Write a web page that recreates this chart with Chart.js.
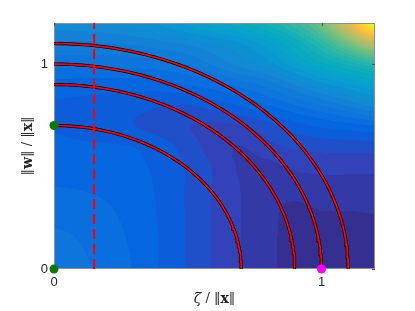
<!DOCTYPE html>
<html>
<head>
<meta charset="utf-8">
<script src="https://cdn.jsdelivr.net/npm/chart.js@4/dist/chart.umd.min.js"></script>
<style>
  html, body { margin: 0; padding: 0; background: #fff; }
  canvas { display: block; }
</style>
</head>
<body>
<canvas id="chart" width="415" height="311"></canvas>
<script>
// ---------- data ----------
const X_TICKS = [0, 1];
const Y_TICKS = [0, 1];

// grid where the background field was sampled
const FIELD_X = [0, 0.1, 0.2, 0.3, 0.4, 0.5, 0.6, 0.7, 0.8, 0.9, 1.0, 1.1, 1.2];
const FIELD_Y = [0, 0.1, 0.2, 0.3, 0.4, 0.5, 0.6, 0.7, 0.8, 0.9, 1.0, 1.1, 1.2];
// colour level (0 = darkest, 1 = yellow), one row per FIELD_Y value
const FIELD = [
  [0.190, 0.181, 0.165, 0.148, 0.122, 0.097, 0.072, 0.050, 0.030, 0.018, 0.010, 0.012, 0.018],
  [0.183, 0.176, 0.162, 0.146, 0.122, 0.097, 0.072, 0.050, 0.030, 0.018, 0.010, 0.012, 0.018],
  [0.175, 0.170, 0.158, 0.143, 0.122, 0.097, 0.072, 0.050, 0.030, 0.019, 0.015, 0.016, 0.020],
  [0.163, 0.160, 0.152, 0.139, 0.121, 0.097, 0.072, 0.050, 0.031, 0.022, 0.027, 0.027, 0.028],
  [0.150, 0.148, 0.143, 0.134, 0.120, 0.097, 0.073, 0.049, 0.032, 0.035, 0.040, 0.040, 0.040],
  [0.140, 0.138, 0.135, 0.130, 0.118, 0.097, 0.072, 0.046, 0.042, 0.055, 0.058, 0.058, 0.058],
  [0.130, 0.128, 0.127, 0.124, 0.110, 0.088, 0.062, 0.050, 0.068, 0.080, 0.085, 0.087, 0.088],
  [0.123, 0.118, 0.110, 0.100, 0.088, 0.076, 0.070, 0.075, 0.092, 0.115, 0.130, 0.140, 0.150],
  [0.122, 0.120, 0.116, 0.110, 0.102, 0.100, 0.112, 0.128, 0.150, 0.175, 0.200, 0.230, 0.260],
  [0.140, 0.138, 0.137, 0.137, 0.140, 0.150, 0.165, 0.185, 0.210, 0.250, 0.290, 0.320, 0.350],
  [0.185, 0.183, 0.183, 0.185, 0.190, 0.200, 0.230, 0.260, 0.290, 0.340, 0.390, 0.430, 0.470],
  [0.220, 0.220, 0.222, 0.228, 0.240, 0.255, 0.275, 0.300, 0.340, 0.400, 0.480, 0.580, 0.700],
  [0.260, 0.265, 0.270, 0.285, 0.305, 0.330, 0.360, 0.390, 0.430, 0.490, 0.580, 0.760, 1.000],
];
const FIELD_LEVELS = 40;

const ARC_RADII = [0.7, 0.9, 1.0, 1.1];
const DASH_X = 0.15;
const GREEN_PTS = [{ x: 0, y: 0 }, { x: 0, y: 0.7 }];
const MAGENTA_PTS = [{ x: 1, y: 0 }];

const X_MIN = 0, X_MAX = 1.2, Y_MIN = 0, Y_MAX = 1.2;

// parula (R2014b), every 4th entry of the 64-colour map
const PARULA_RGB = [
  [53, 42, 135], [50, 67, 186], [3, 99, 225], [13, 117, 220], [20, 133, 212],
  [9, 152, 209], [6, 167, 198], [21, 177, 180], [56, 185, 158], [101, 190, 134],
  [146, 191, 115], [183, 189, 100], [217, 186, 86], [248, 186, 68], [252, 206, 46],
  [245, 228, 29], [249, 251, 14],
];

// ---------- helpers ----------
function parula(t) {
  t = Math.max(0, Math.min(1, t));
  const n = PARULA_RGB.length - 1;
  const k = Math.min(n - 1, Math.floor(t * n));
  const f = t * n - k;
  const a = PARULA_RGB[k], b = PARULA_RGB[k + 1];
  return [0, 1, 2].map((i) => a[i] + (b[i] - a[i]) * f);
}

// smooth (Catmull-Rom) lookup in the sampled grid, for display only
function cr(p0, p1, p2, p3, t) {
  return 0.5 * (2 * p1 + (p2 - p0) * t + (2 * p0 - 5 * p1 + 4 * p2 - p3) * t * t + (3 * p1 - p0 - 3 * p2 + p3) * t * t * t);
}

function cell(arr, v) {
  const last = arr.length - 1;
  if (v <= arr[0]) return [0, 0];
  if (v >= arr[last]) return [last - 1, 1];
  let i = 0;
  while (arr[i + 1] < v) i++;
  return [i, (v - arr[i]) / (arr[i + 1] - arr[i])];
}

const at = (j, i) => {
  const jj = Math.max(0, Math.min(FIELD.length - 1, j));
  const ii = Math.max(0, Math.min(FIELD[0].length - 1, i));
  return FIELD[jj][ii];
};

function fieldAt(x, y) {
  const [i, fx] = cell(FIELD_X, x);
  const [j, fy] = cell(FIELD_Y, y);
  const rows = [-1, 0, 1, 2].map((dj) =>
    cr(at(j + dj, i - 1), at(j + dj, i), at(j + dj, i + 1), at(j + dj, i + 2), fx));
  return cr(rows[0], rows[1], rows[2], rows[3], fy);
}

// arcs built from the radii
function arcPoints(r) {
  const pts = [];
  for (let k = 0; k <= 90; k++) {
    const th = (k / 90) * Math.PI / 2;
    pts.push({ x: r * Math.cos(th), y: r * Math.sin(th) });
  }
  return pts;
}

// ---------- plugins ----------
const fieldPlugin = {
  id: "field",
  beforeDatasetsDraw(chart) {
    const { ctx, chartArea: ca, scales } = chart;
    const w = Math.round(ca.right - ca.left), h = Math.round(ca.bottom - ca.top);
    const off = document.createElement("canvas");
    off.width = w; off.height = h;
    const octx = off.getContext("2d");
    const img = octx.createImageData(w, h);
    for (let j = 0; j < h; j++) {
      const yv = scales.y.getValueForPixel(ca.top + j + 0.5);
      for (let i = 0; i < w; i++) {
        const xv = scales.x.getValueForPixel(ca.left + i + 0.5);
        const v = fieldAt(xv, yv);
        const q = (Math.floor(v * FIELD_LEVELS) + 0.5) / FIELD_LEVELS;
        const c = parula(q);
        const p = (j * w + i) * 4;
        img.data[p] = c[0]; img.data[p + 1] = c[1]; img.data[p + 2] = c[2]; img.data[p + 3] = 255;
      }
    }
    octx.putImageData(img, 0, 0);
    ctx.drawImage(off, ca.left, ca.top);

    // axis box + inward ticks
    ctx.save();
    ctx.strokeStyle = "#8f8f8f";
    ctx.lineWidth = 1;
    ctx.strokeRect(ca.left + 0.5, ca.top + 0.5, w - 1, h - 1);
    ctx.strokeStyle = "#555";
    X_TICKS.forEach((t) => {
      const px = Math.round(scales.x.getPixelForValue(t)) + 0.5;
      ctx.beginPath();
      ctx.moveTo(px, ca.top); ctx.lineTo(px, ca.top + 3);
      ctx.moveTo(px, ca.bottom); ctx.lineTo(px, ca.bottom - 3);
      ctx.stroke();
    });
    Y_TICKS.forEach((t) => {
      const py = Math.round(scales.y.getPixelForValue(t)) + 0.5;
      ctx.beginPath();
      ctx.moveTo(ca.left, py); ctx.lineTo(ca.left + 3, py);
      ctx.moveTo(ca.right, py); ctx.lineTo(ca.right - 3, py);
      ctx.stroke();
    });
    ctx.restore();
  },
};

// axis titles with mixed italic / bold pieces
const X_TITLE = [
  { t: "ζ", f: "italic 14px 'DejaVu Serif'" },
  { t: " / ", f: "13px 'DejaVu Serif'" },
  { t: "‖", f: "13px 'DejaVu Serif'" },
  { t: "x", f: "bold 14px 'DejaVu Serif'" },
  { t: "‖", f: "13px 'DejaVu Serif'" },
];
const Y_TITLE = [
  { t: "‖", f: "13px 'DejaVu Serif'" },
  { t: "w", f: "bold 14px 'DejaVu Serif'" },
  { t: "‖", f: "13px 'DejaVu Serif'" },
  { t: " / ", f: "13px 'DejaVu Serif'" },
  { t: "‖", f: "13px 'DejaVu Serif'" },
  { t: "x", f: "bold 14px 'DejaVu Serif'" },
  { t: "‖", f: "13px 'DejaVu Serif'" },
];

function drawPieces(ctx, pieces, cx, cy, rot) {
  ctx.save();
  ctx.translate(cx, cy);
  ctx.rotate(rot);
  let total = 0;
  pieces.forEach((p) => { ctx.font = p.f; total += ctx.measureText(p.t).width; });
  let x = -total / 2;
  ctx.fillStyle = "#262626";
  ctx.textBaseline = "middle";
  ctx.textAlign = "left";
  pieces.forEach((p) => {
    ctx.font = p.f;
    ctx.fillText(p.t, x, 0);
    x += ctx.measureText(p.t).width;
  });
  ctx.restore();
}

const titlePlugin = {
  id: "titles",
  afterDraw(chart) {
    const { ctx, chartArea: ca } = chart;
    drawPieces(ctx, X_TITLE, (ca.left + ca.right) / 2, 299, 0);
    drawPieces(ctx, Y_TITLE, 28, (ca.top + ca.bottom) / 2, -Math.PI / 2);
  },
};

// ---------- chart ----------
// Chart.js paints dataset 0 last, so the top layer comes first
const datasets = [];
datasets.push({ data: GREEN_PTS, pointRadius: 4.5, pointBackgroundColor: "#0b7a0b", pointBorderColor: "#0b7a0b", borderWidth: 0, clip: false });
datasets.push({ data: MAGENTA_PTS, pointRadius: 4.5, pointBackgroundColor: "#ff00ff", pointBorderColor: "#ff00ff", borderWidth: 0, clip: false });
datasets.push({
  data: [{ x: DASH_X, y: Y_MIN }, { x: DASH_X, y: Y_MAX }],
  showLine: true, borderColor: "#ff0000", borderWidth: 2, borderDash: [10, 5], pointRadius: 0,
});
ARC_RADII.forEach((r) => {
  datasets.push({ data: arcPoints(r), showLine: true, borderColor: "#ff0000", borderWidth: 1.8, pointRadius: 0, tension: 0 });
});
ARC_RADII.forEach((r) => {
  datasets.push({ data: arcPoints(r), showLine: true, borderColor: "#000", borderWidth: 3.2, pointRadius: 0, tension: 0 });
});

const tickFont = { family: "'Liberation Sans', Arial, sans-serif", size: 13 };

new Chart(document.getElementById("chart"), {
  type: "scatter",
  data: { datasets },
  options: {
    responsive: false,
    animation: false,
    layout: { padding: { top: 23, right: 40, left: 0, bottom: 0 } },
    plugins: { legend: { display: false }, tooltip: { enabled: false } },
    scales: {
      x: {
        type: "linear", min: X_MIN, max: X_MAX,
        afterBuildTicks: (s) => { s.ticks = X_TICKS.map((v) => ({ value: v })); },
        afterFit: (s) => { s.height = 42; },
        ticks: { color: "#262626", font: tickFont, padding: 6, maxRotation: 0 },
        grid: { display: false, drawTicks: false },
        border: { display: false },
      },
      y: {
        type: "linear", min: Y_MIN, max: Y_MAX,
        afterBuildTicks: (s) => { s.ticks = Y_TICKS.map((v) => ({ value: v })); },
        afterFit: (s) => { s.width = 54; },
        ticks: { color: "#262626", font: tickFont, padding: 6 },
        grid: { display: false, drawTicks: false },
        border: { display: false },
      },
    },
  },
  plugins: [fieldPlugin, titlePlugin],
});
</script>
</body>
</html>
